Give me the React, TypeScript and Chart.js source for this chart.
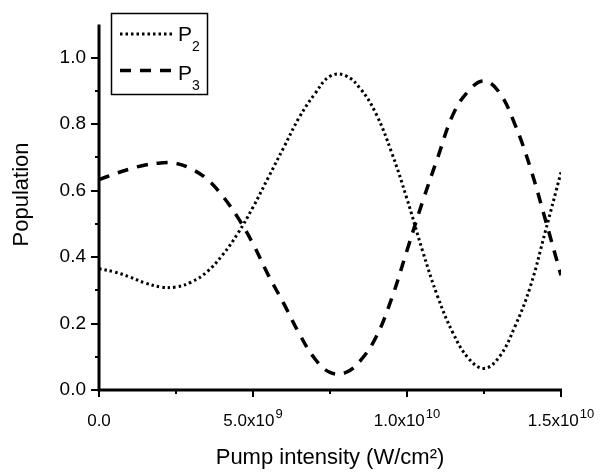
import React, { useEffect, useRef } from "react";
import { Chart, registerables } from "chart.js";

Chart.register(...registerables);

// Pump intensity (W/cm^2)
const xValues = [
  0, 5e8, 1e9, 1.5e9, 2e9, 2.5e9, 3e9, 3.5e9, 4e9, 4.5e9, 5e9, 5.5e9, 6e9, 6.5e9, 7e9, 7.5e9,
  8e9, 8.5e9, 9e9, 9.5e9, 1e10, 1.05e10, 1.1e10, 1.15e10, 1.2e10, 1.25e10, 1.3e10, 1.35e10,
  1.4e10, 1.45e10, 1.5e10,
];

const p2Values = [
  0.365, 0.355, 0.34, 0.322, 0.31, 0.31, 0.325, 0.355, 0.405, 0.47, 0.55, 0.64, 0.73, 0.82,
  0.89, 0.944, 0.946, 0.905, 0.83, 0.715, 0.575, 0.42, 0.28, 0.17, 0.095, 0.065, 0.1, 0.19,
  0.31, 0.48, 0.655,
];

const p3Values = [
  0.633, 0.65, 0.665, 0.677, 0.683, 0.682, 0.665, 0.635, 0.585, 0.52, 0.44, 0.345, 0.26, 0.17,
  0.095, 0.053, 0.052, 0.09, 0.16, 0.275, 0.42, 0.565, 0.7, 0.83, 0.9, 0.93, 0.895, 0.8, 0.67,
  0.51, 0.345,
];

const seriesNames = ["P", "P"];
const seriesSubs = ["2", "3"];

const yTickLabels = ["0.0", "0.2", "0.4", "0.6", "0.8", "1.0"];
const xMajorTicks = [0, 5e9, 1e10, 1.5e10];
const xMinorTicks = [2.5e9, 7.5e9, 1.25e10];
const xTickBase = ["0.0", "5.0x10", "1.0x10", "1.5x10"];
const xTickExp = ["", "9", "10", "10"];

const xTitle = "Pump intensity (W/cm²)";
const yTitle = "Population";

const FONT = '"Liberation Sans", Arial, Helvetica, sans-serif';

const DOT_DASH = [2.5, 3];
const DASH_DASH = [11, 9];

const customPlugin = {
  id: "customAxesLegend",
  afterDraw(chart: any) {
    const ctx = chart.ctx as CanvasRenderingContext2D;
    const xs = chart.scales.x;
    const ys = chart.scales.y;
    const area = chart.chartArea;
    ctx.save();
    ctx.strokeStyle = "#000";
    ctx.fillStyle = "#000";
    ctx.setLineDash([]);

    // axes
    ctx.lineWidth = 3;
    ctx.beginPath();
    ctx.moveTo(area.left, area.top);
    ctx.lineTo(area.left, area.bottom + 1.5);
    ctx.moveTo(area.left - 1.5, area.bottom);
    ctx.lineTo(area.right + 1, area.bottom);
    ctx.stroke();

    // y ticks
    ctx.lineWidth = 2;
    ctx.beginPath();
    for (let i = 0; i <= 10; i++) {
      const v = i / 10;
      const py = Math.round(ys.getPixelForValue(v));
      const len = i % 2 === 0 ? 8 : 4;
      ctx.moveTo(area.left, py);
      ctx.lineTo(area.left - len, py);
    }
    // x ticks
    xMajorTicks.forEach((v) => {
      const px = Math.round(xs.getPixelForValue(v));
      ctx.moveTo(px, area.bottom);
      ctx.lineTo(px, area.bottom + 7);
    });
    xMinorTicks.forEach((v) => {
      const px = Math.round(xs.getPixelForValue(v));
      ctx.moveTo(px, area.bottom);
      ctx.lineTo(px, area.bottom + 4);
    });
    ctx.stroke();

    // x tick labels with superscripts
    ctx.textBaseline = "alphabetic";
    ctx.textAlign = "left";
    xMajorTicks.forEach((v, i) => {
      const px = xs.getPixelForValue(v);
      ctx.font = `17px ${FONT}`;
      const wb = ctx.measureText(xTickBase[i]).width;
      ctx.font = `13px ${FONT}`;
      const we = xTickExp[i] ? ctx.measureText(xTickExp[i]).width + 1 : 0;
      const start = px - (wb + we) / 2;
      ctx.font = `17px ${FONT}`;
      ctx.fillText(xTickBase[i], start, area.bottom + 36);
      if (xTickExp[i]) {
        ctx.font = `13px ${FONT}`;
        ctx.fillText(xTickExp[i], start + wb + 1, area.bottom + 28);
      }
    });

    // y title
    ctx.save();
    ctx.translate(28, 194.5);
    ctx.rotate(-Math.PI / 2);
    ctx.textAlign = "center";
    ctx.font = `22px ${FONT}`;
    ctx.fillText(yTitle, 0, 0);
    ctx.restore();

    // legend
    const bx = 111.5, by = 13.5, bw = 96, bh = 81;
    ctx.lineWidth = 1.5;
    ctx.strokeRect(bx, by, bw, bh);
    const rows = [34, 70.5];
    const dashes = [DOT_DASH, DASH_DASH];
    const widths = [3, 3.5];
    rows.forEach((ry, i) => {
      ctx.setLineDash(dashes[i]);
      ctx.lineWidth = widths[i];
      ctx.beginPath();
      ctx.moveTo(120, ry);
      ctx.lineTo(174, ry);
      ctx.stroke();
    });
    ctx.setLineDash([]);
    const baselines = [41, 80];
    ctx.textAlign = "left";
    baselines.forEach((b, i) => {
      ctx.font = `21px ${FONT}`;
      ctx.fillText(seriesNames[i], 178, b);
      const w = ctx.measureText(seriesNames[i]).width;
      ctx.font = `14px ${FONT}`;
      ctx.fillText(seriesSubs[i], 178 + w, b + 9.5);
    });
    ctx.restore();
  },
};

export default function App() {
  const canvasRef = useRef<HTMLCanvasElement | null>(null);

  useEffect(() => {
    document.body.style.margin = "0";
    const canvas = canvasRef.current;
    if (!canvas) return;
    const chart = new Chart(canvas, {
      type: "line",
      data: {
        datasets: [
          {
            label: "P2",
            data: xValues.map((x, i) => ({ x, y: p2Values[i] })),
            borderColor: "#000",
            borderWidth: 3,
            borderDash: DOT_DASH,
            pointRadius: 0,
            tension: 0.4,
            fill: false,
          },
          {
            label: "P3",
            data: xValues.map((x, i) => ({ x, y: p3Values[i] })),
            borderColor: "#000",
            borderWidth: 3.5,
            borderDash: DASH_DASH,
            pointRadius: 0,
            tension: 0.4,
            fill: false,
          },
        ],
      },
      options: {
        animation: false,
        responsive: false,
        devicePixelRatio: 1,
        layout: { padding: { left: 0, right: 42, top: 14, bottom: 0 } },
        plugins: {
          legend: { display: false },
          tooltip: { enabled: false },
        },
        scales: {
          x: {
            type: "linear",
            min: 0,
            max: 1.5e10,
            afterFit: (s: any) => {
              s.height = 85;
            },
            grid: { display: false },
            border: { display: false },
            ticks: { display: false, stepSize: 2.5e9 },
            title: {
              display: true,
              text: xTitle,
              color: "#000",
              font: { family: FONT, size: 22 },
              padding: { top: 4, bottom: 4 },
            },
          },
          y: {
            type: "linear",
            min: 0,
            max: 1.1,
            afterFit: (s: any) => {
              s.width = 99;
            },
            grid: { display: false, drawTicks: false },
            border: { display: false },
            ticks: {
              stepSize: 0.1,
              padding: 13,
              color: "#000",
              font: { family: FONT, size: 19 },
              autoSkip: false,
              callback: (v: any) => {
                const i = Math.round(Number(v) * 10);
                return i % 2 === 0 && i <= 10 ? yTickLabels[i / 2] : "";
              },
            },
            title: { display: false },
          },
        },
      },
      plugins: [customPlugin],
    });
    return () => chart.destroy();
  }, []);

  return (
    <div style={{ width: 603, height: 475, background: "#fff" }}>
      <canvas ref={canvasRef} width={603} height={475} />
    </div>
  );
}
